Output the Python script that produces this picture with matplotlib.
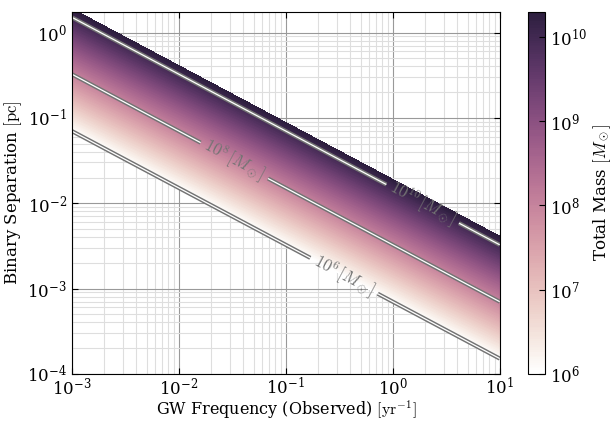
import numpy as np
import matplotlib
matplotlib.use("Agg")
import matplotlib.pyplot as plt
import matplotlib.patheffects as pe
import seaborn as sns

plt.rcParams['font.family'] = 'serif'
plt.rcParams['font.serif'] = ['DejaVu Serif']
plt.rcParams['mathtext.fontset'] = 'cm'

# values
freq_lim = [1e-3, 1e1]        # GW frequency [1/yr]
sep_lim = [1e-4, 1.75]        # binary separation [pc]
mass_lim = [1e6, 2e10]        # total mass [Msun]
line_masses = [1e6, 1e8, 1e10]
label_freqs = [0.35, 0.033, 1.9]
sep_ref = 0.07                # separation [pc] of a 1e6 Msun binary at 1e-3 /yr
freq_ref = 1e-3
mass_ref = 1e6

freqs = np.logspace(np.log10(freq_lim[0]), np.log10(freq_lim[1]), 300)
seps = np.logspace(np.log10(sep_lim[0]), np.log10(sep_lim[1]), 300)
F, A = np.meshgrid(freqs, seps)
# Kepler: a ~ M^(1/3) f^(-2/3)
logM = np.log10(mass_ref * (A / sep_ref)**3 * (F / freq_ref)**2)

cmap = sns.cubehelix_palette(light=1, as_cmap=True)
lo, hi = np.log10(mass_lim)

fig = plt.figure(figsize=(6.14, 4.21), dpi=100)
ax = fig.add_axes([0.117, 0.112, 0.697, 0.86])
cax = fig.add_axes([0.86, 0.112, 0.028, 0.86])

ax.set_xscale('log')
ax.set_yscale('log')
ax.set_xlim(freq_lim)
ax.set_ylim(sep_lim)

cs = ax.contourf(F, A, logM, levels=np.linspace(lo, hi, 200), cmap=cmap,
                 vmin=lo, vmax=hi)
ls = ax.contour(F, A, logM, levels=np.log10(line_masses), colors='white',
                linewidths=0.9)
ls.set_path_effects([pe.Stroke(linewidth=3.0, foreground='0.45'), pe.Normal()])
pos = [(f, sep_ref * (m / mass_ref)**(1 / 3) * (f / freq_ref)**(-2 / 3))
       for f, m in zip(label_freqs, line_masses)]
fmt = {np.log10(m): r'$10^{%d}\,[M_\odot]$' % round(np.log10(m)) for m in line_masses}
ax.clabel(ls, fmt=fmt, manual=pos, inline=True, fontsize=12, colors='0.45',
          inline_spacing=5)

ax.set_axisbelow(True)
ax.grid(True, which='major', color='0.6', lw=0.8)
ax.grid(True, which='minor', color='0.87', lw=0.8)
ax.tick_params(which='both', direction='in', top=True, right=True, labelsize=12)
ax.tick_params(which='major', length=4)
ax.tick_params(which='minor', length=0)
ax.tick_params(axis='x', pad=2)
ax.set_xlabel(r'GW Frequency (Observed) $[\mathrm{yr}^{-1}]$', fontsize=11.5,
              labelpad=0)
ax.set_ylabel(r'Binary Separation $[\mathrm{pc}]$', fontsize=12, labelpad=2)

cb = fig.colorbar(cs, cax=cax)
cb.set_ticks([6, 7, 8, 9, 10])
cb.set_ticklabels([r'$\mathdefault{10^{%d}}$' % v for v in [6, 7, 8, 9, 10]])
cb.ax.tick_params(labelsize=12, direction='in', length=4)
cb.set_label(r'Total Mass $[M_\odot]$', fontsize=12, labelpad=3)

fig.savefig('out.png', dpi=100)
